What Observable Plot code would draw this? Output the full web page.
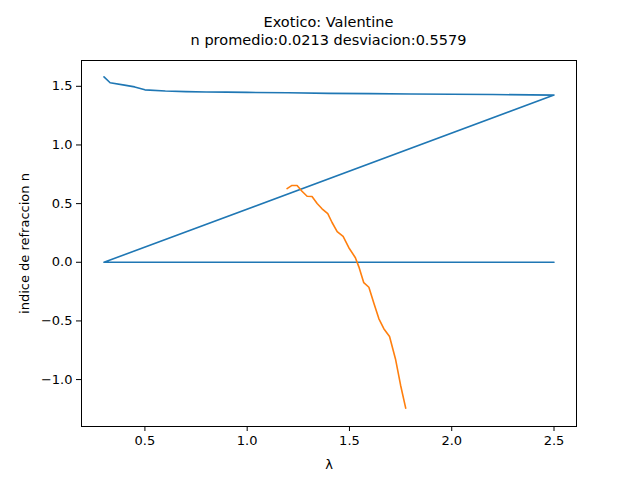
<!DOCTYPE html><html><head><meta charset="utf-8">
<script src="https://cdn.jsdelivr.net/npm/d3@7"></script>
<script src="https://cdn.jsdelivr.net/npm/@observablehq/plot@0.6"></script>
<style>body{margin:0;background:#fff;font-family:"DejaVu Sans";}
#t{position:absolute;top:13px;left:81px;width:495px;text-align:center;font-size:14.5px;line-height:18px;color:#000;z-index:2}
#c{position:absolute;top:0;left:0;z-index:1}</style></head><body>
<div id="t">Exotico: Valentine<br>n promedio:0.0213 desviacion:0.5579</div>
<div id="c"></div>
<script>
const blueX=[0.3,0.33,0.4,0.45,0.5,0.6,0.7,0.8,0.9,1.0,1.2,1.4,1.6,1.8,2.0,2.2,2.5,0.3,2.5];
const blueY=[1.58,1.53,1.51,1.495,1.47,1.46,1.455,1.452,1.45,1.448,1.445,1.44,1.438,1.435,1.432,1.43,1.425,0,0];
const orX=[1.195,1.219,1.244,1.268,1.293,1.317,1.342,1.366,1.394,1.415,1.440,1.469,1.497,1.529,1.546,1.570,1.595,1.619,1.644,1.668,1.696,1.725,1.750,1.775];
const orY=[0.628,0.655,0.655,0.605,0.563,0.560,0.501,0.456,0.414,0.339,0.261,0.221,0.124,0.039,-0.039,-0.174,-0.213,-0.347,-0.482,-0.566,-0.633,-0.824,-1.048,-1.244];
const xTicks=[0.5,1.0,1.5,2.0,2.5];
const yTicks=[-1.0,-0.5,0.0,0.5,1.0,1.5];
const blue=blueX.map((x,i)=>({x,y:blueY[i]}));
const orange=orX.map((x,i)=>({x,y:orY[i]}));
const p=Plot.plot({width:640,height:480,marginTop:60,marginBottom:54,marginLeft:81,marginRight:64,
style:{fontFamily:"DejaVu Sans",fontSize:"13px",color:"#000",background:"transparent"},
x:{domain:[0.19,2.61]},
y:{domain:[-1.40,1.72]},
marks:[
Plot.frame({stroke:"#000"}),
Plot.axisX({ticks:xTicks,tickFormat:d3.format(".1f"),tickSize:5,tickPadding:4,label:"λ",labelAnchor:"center",labelArrow:"none",labelOffset:42,fontSize:13}),
Plot.axisY({ticks:yTicks,tickFormat:d3.format(".1f"),tickSize:5,tickPadding:4,label:"indice de refraccion n",labelAnchor:"center",labelArrow:"none",labelOffset:62,fontSize:13}),
Plot.line(blue,{x:"x",y:"y",stroke:"#1f77b4",strokeWidth:1.6}),
Plot.line(orange,{x:"x",y:"y",stroke:"#ff7f0e",strokeWidth:1.6})
]});
document.getElementById("c").appendChild(p);
</script></body></html>
